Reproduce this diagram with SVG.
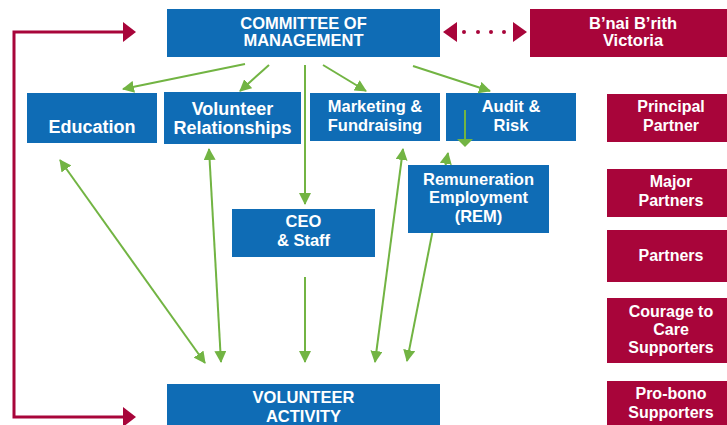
<svg xmlns="http://www.w3.org/2000/svg" width="727" height="425" viewBox="0 0 727 425">
<style>
.blue{fill:#0f6cb5}
.red{fill:#a8053a}
text{font-family:"Liberation Sans",Arial,sans-serif;font-weight:bold;fill:#fff;text-anchor:middle}
.g{stroke:#72b443;stroke-width:2;fill:none}
.rl{stroke:#a8053a;stroke-width:3;fill:none}
</style>
<defs>
<marker id="ga" markerUnits="userSpaceOnUse" markerWidth="12" markerHeight="12" refX="11" refY="6" orient="auto-start-reverse" viewBox="0 0 12 12">
<path d="M0,0 L12,6 L0,12 z" fill="#72b443"/>
</marker>
</defs>
<rect width="727" height="425" fill="#fff"/>

<g id="committee"><rect class="blue" x="167" y="9" width="273" height="48"/>
<text font-size="16.5" x="303.5" y="29">COMMITTEE OF</text><text font-size="16.5" x="303.5" y="46">MANAGEMENT</text></g>
<g id="bnai"><rect class="red" x="530" y="9" width="197" height="48"/>
<text font-size="16.5" x="633" y="29">B’nai B’rith</text><text font-size="16.5" x="633" y="46">Victoria</text></g>
<g id="education"><rect class="blue" x="27" y="93" width="130" height="50"/>
<text font-size="18" x="92" y="133">Education</text></g>
<g id="volrel"><rect class="blue" x="164" y="92" width="137" height="52"/>
<text font-size="18" x="232.5" y="115">Volunteer</text><text font-size="18" x="232.5" y="134">Relationships</text></g>
<g id="marketing"><rect class="blue" x="310" y="93" width="130" height="48"/>
<text font-size="16.5" x="375" y="112">Marketing &amp;</text><text font-size="16.5" x="375" y="131">Fundraising</text></g>
<g id="audit"><rect class="blue" x="446" y="93" width="130" height="48"/>
<text font-size="16.5" x="511" y="112">Audit &amp;</text><text font-size="16.5" x="511" y="131">Risk</text></g>
<g id="principal"><rect class="red" x="607" y="94" width="120" height="48"/>
<text font-size="16" x="671" y="112">Principal</text><text font-size="16" x="671" y="131">Partner</text></g>
<g id="ceo"><rect class="blue" x="232" y="209" width="143" height="48"/>
<text font-size="16.5" x="303.5" y="227">CEO</text><text font-size="16.5" x="303.5" y="246">&amp; Staff</text></g>
<g id="major"><rect class="red" x="607" y="169" width="120" height="48"/>
<text font-size="16" x="671" y="187">Major</text><text font-size="16" x="671" y="206">Partners</text></g>
<g id="partners"><rect class="red" x="607" y="230" width="120" height="52"/>
<text font-size="16" x="671" y="261">Partners</text></g>
<g id="courage"><rect class="red" x="607" y="298" width="120" height="65"/>
<text font-size="16" x="671" y="317">Courage to</text><text font-size="16" x="671" y="335">Care</text><text font-size="16" x="671" y="353">Supporters</text></g>
<g id="probono"><rect class="red" x="607" y="381" width="120" height="50"/>
<text font-size="16" x="671" y="399">Pro-bono</text><text font-size="16" x="671" y="418">Supporters</text></g>
<g id="volact"><rect class="blue" x="167" y="384" width="273" height="50"/>
<text font-size="16.5" x="303.5" y="403">VOLUNTEER</text><text font-size="16.5" x="303.5" y="422">ACTIVITY</text></g>

<g id="connectors">
<path class="rl" d="M124,32 H14 V417 H124"/>
<polygon fill="#a8053a" points="136,32 123,22 123,42"/>
<polygon fill="#a8053a" points="136,417 123,407 123,427"/>
<polygon fill="#a8053a" points="443,32 457,22 457,42"/>
<polygon fill="#a8053a" points="527,32 513,22 513,42"/>
<g fill="#a8053a"><circle cx="464" cy="32" r="2"/><circle cx="478" cy="32" r="2"/><circle cx="491" cy="32" r="2"/><circle cx="504" cy="32" r="2"/></g>
<line class="g" x1="245" y1="64" x2="123" y2="89" marker-end="url(#ga)"/>
<line class="g" x1="269" y1="65" x2="240" y2="91" marker-end="url(#ga)"/>
<line class="g" x1="305" y1="65" x2="305" y2="204" marker-end="url(#ga)"/>
<line class="g" x1="323" y1="65" x2="366" y2="91" marker-end="url(#ga)"/>
<line class="g" x1="413" y1="66" x2="490" y2="91" marker-end="url(#ga)"/>
<line class="g" x1="465" y1="110" x2="465" y2="140"/>
<polygon fill="#72b443" points="457,139 473,139 465,147"/>
<line class="g" x1="60" y1="160" x2="205" y2="363" marker-start="url(#ga)" marker-end="url(#ga)"/>
<line class="g" x1="209" y1="149" x2="221" y2="362" marker-start="url(#ga)" marker-end="url(#ga)"/>
<line class="g" x1="305" y1="277" x2="305" y2="362" marker-end="url(#ga)"/>
<line class="g" x1="403" y1="149" x2="375" y2="362" marker-start="url(#ga)" marker-end="url(#ga)"/>
<line class="g" x1="448" y1="153" x2="407" y2="361" marker-start="url(#ga)" marker-end="url(#ga)"/>
</g>

<g id="rem"><rect class="blue" x="408" y="165" width="141" height="68"/>
<text font-size="16.5" x="478.5" y="185">Remuneration</text><text font-size="16.5" x="478.5" y="203">Employment</text><text font-size="16.5" x="478.5" y="222">(REM)</text></g>
</svg>
